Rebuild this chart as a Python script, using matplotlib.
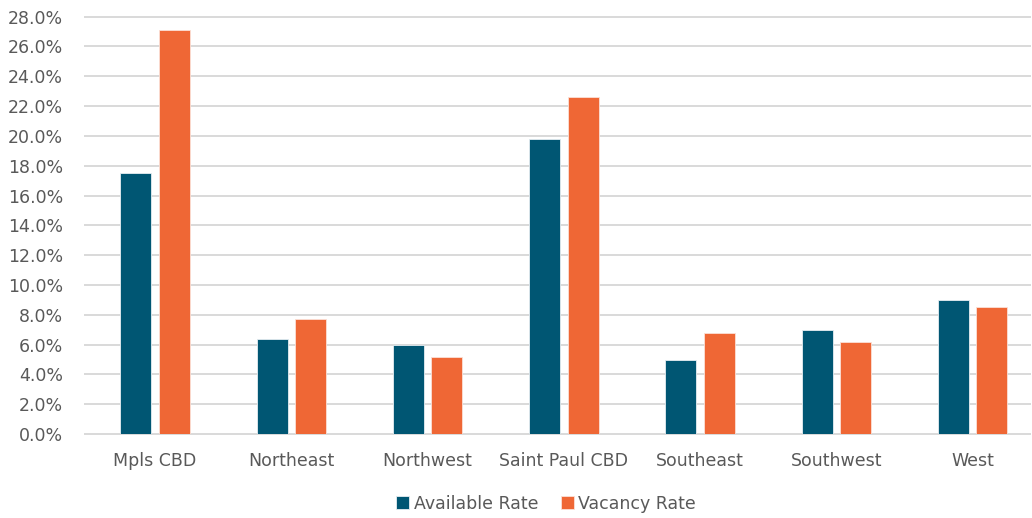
import matplotlib
matplotlib.use("Agg")
import matplotlib.pyplot as plt
import numpy as np
from matplotlib.ticker import FuncFormatter, MultipleLocator

categories = ["Mpls CBD", "Northeast", "Northwest", "Saint Paul CBD",
              "Southeast", "Southwest", "West"]
available_rate = [17.5, 6.4, 6.0, 19.8, 5.0, 7.0, 9.0]
vacancy_rate = [27.1, 7.7, 5.2, 22.6, 6.8, 6.2, 8.5]

teal = "#005673"
orange = "#EF6735"
text_gray = "#595959"
grid_gray = "#D9D9D9"

plt.rcParams["font.family"] = ["DejaVu Sans"]

fig = plt.figure(figsize=(10.32, 5.18), dpi=100)
ax = fig.add_axes([0.0824, 0.162, 0.916, 0.806])

x = np.arange(len(categories))
w = 0.228
off = 0.141
ax.bar(x - off, available_rate, w, color=teal, edgecolor="#E6EEF2",
       linewidth=0.6, label="Available Rate", zorder=3)
ax.bar(x + off, vacancy_rate, w, color=orange, edgecolor="#FBE0D6",
       linewidth=0.6, label="Vacancy Rate", zorder=3)

ax.set_xlim(-0.514, 6.424)
ax.set_ylim(0, 28)
ax.yaxis.set_major_locator(MultipleLocator(2))
ax.yaxis.set_major_formatter(FuncFormatter(lambda v, _: f"{v:.1f}%"))
ax.grid(axis="y", color=grid_gray, linewidth=1.4, zorder=0)
ax.set_axisbelow(True)
for s in ax.spines.values():
    s.set_visible(False)
ax.tick_params(axis="both", length=0, colors=text_gray, labelsize=12.5)
ax.tick_params(axis="y", pad=15.8)
ax.tick_params(axis="x", pad=13)
ax.set_xticks(x)
ax.set_xticklabels(categories)
for gl in ax.get_ygridlines():
    gl.set_clip_on(False)

fig.legend(loc="lower center", bbox_to_anchor=(0.529, -0.02), ncol=2,
           frameon=False, fontsize=12.5, labelcolor=text_gray,
           handlelength=0.75, handleheight=0.75, handletextpad=0.25,
           columnspacing=1.3)

fig.savefig("out.png", dpi=100, facecolor="white")
